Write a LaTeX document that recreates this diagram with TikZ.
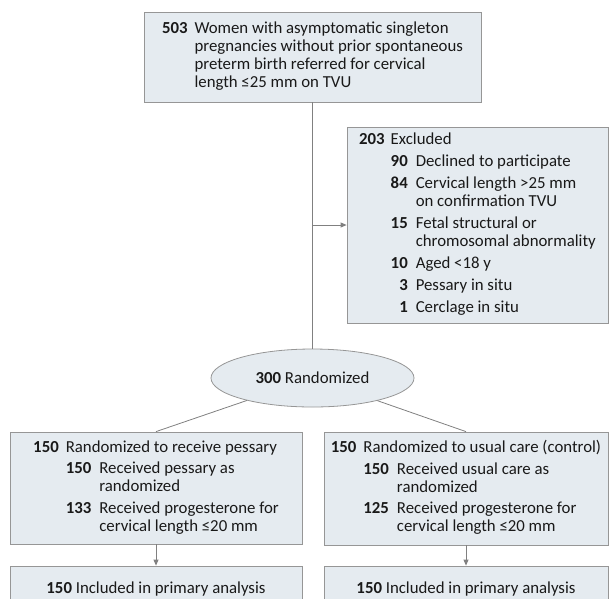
\documentclass[tikz,border=0pt]{standalone}
\usepackage{fontspec}
\setmainfont{Carlito}
\usetikzlibrary{shapes.geometric}
\usetikzlibrary{arrows.meta}
\definecolor{boxfill}{RGB}{229,235,240}
\definecolor{boxline}{RGB}{150,150,150}
\definecolor{linkgray}{RGB}{128,128,128}
\tikzset{
    mybox/.style = {rectangle, draw=boxline, line width=0.8pt, fill=boxfill, inner sep=0pt, font=\fontsize{16.8}{18}\selectfont, text=black!90},
    myell/.style = {ellipse, draw=boxline, line width=0.8pt, fill=boxfill, inner sep=0pt, minimum width=203pt, minimum height=58pt, font=\fontsize{16.8}{18}\selectfont, text=black!90},
    edgen/.style = {-, line width=0.8pt, linkgray},
    edgea/.style = {-{Triangle[length=6pt,width=5pt]}, line width=0.8pt, linkgray},
}
\begin{document}
\begin{tikzpicture}[x=1pt,y=-1pt]
\useasboundingbox (0,0) rectangle (609,598);
\clip (0,0) rectangle (609,598);

\node[mybox, minimum width=337pt, minimum height=90pt] at (312.5, 57.0) (scr) {%
\begin{tabular}{@{}r@{\hspace{7pt}}l@{}}
\textbf{503} & Women with asymptomatic singleton\\
 & pregnancies without prior spontaneous\\
 & preterm birth referred for cervical\\
 & length ≤25 mm on TVU
\end{tabular}};
\node[mybox, minimum width=261pt, minimum height=196pt] at (477.5,225.0) (excl) {%
\begin{tabular}{@{}r@{\hspace{6pt}}r@{\hspace{8pt}}l@{}}
\textbf{203} & \multicolumn{2}{@{}l@{}}{Excluded}\\[4pt]
 & \textbf{90} & Declined to participate\\[4pt]
 & \textbf{84} & Cervical length >25 mm\\
 & & on confirmation TVU\\[4pt]
 & \textbf{15} & Fetal structural or\\
 & & chromosomal abnormality\\[4pt]
 & \textbf{10} & Aged <18 y\\[4pt]
 & \textbf{3} & Pessary in situ\\[4pt]
 & \textbf{1} & Cerclage in situ
\end{tabular}};
\node[myell] at (312.5,378.0) (rand) {\textbf{300} Randomized};
\node[mybox, minimum width=292pt, minimum height=112pt] at (156.0,488.0) (pess) {%
\begin{tabular}{@{}r@{\hspace{7pt}}r@{\hspace{8pt}}l@{}}
\textbf{150} & \multicolumn{2}{@{}l@{}}{Randomized to receive pessary}\\[3.5pt]
 & \textbf{150} & Received pessary as\\
 & & randomized\\[3.5pt]
 & \textbf{133} & Received progesterone for\\
 & & cervical length ≤20 mm
\end{tabular}};
\node[mybox, minimum width=284pt, minimum height=113pt] at (466.0,488.5) (ctrl) {%
\begin{tabular}{@{}r@{\hspace{7pt}}r@{\hspace{8pt}}l@{}}
\textbf{150} & \multicolumn{2}{@{}l@{}}{Randomized to usual care (control)}\\[3.5pt]
 & \textbf{150} & Received usual care as\\
 & & randomized\\[3.5pt]
 & \textbf{125} & Received progesterone for\\
 & & cervical length ≤20 mm
\end{tabular}};
\node[mybox, minimum width=292pt, minimum height=46pt] at (156.0,589.0) (pessan) {\textbf{150} Included in primary analysis};
\node[mybox, minimum width=284pt, minimum height=46pt] at (466.0,589.0) (ctrlan) {\textbf{150} Included in primary analysis};

\coordinate (split) at (scr.south |- excl.west);
\draw[edgen] (scr) -- (rand);
\draw[edgea] (split) -- (excl.west);
\draw[edgen] (rand) -- (pess.north);
\draw[edgen] (rand) -- (ctrl.north);
\draw[edgea] (pess) -- (pessan);
\draw[edgea] (ctrl) -- (ctrlan);

\end{tikzpicture}
\end{document}
